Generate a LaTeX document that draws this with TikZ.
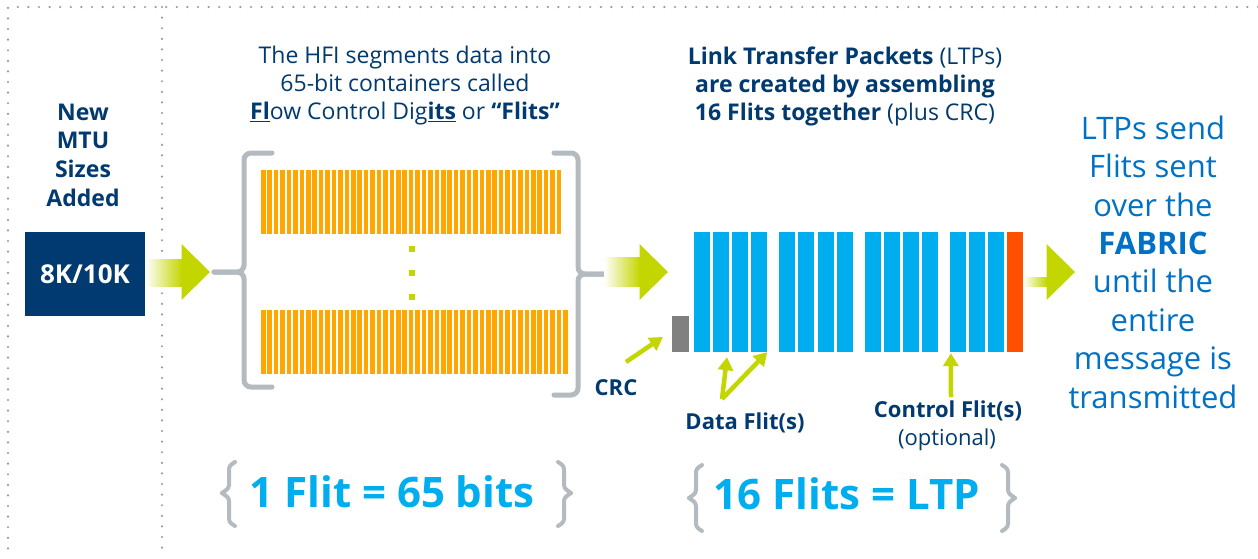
\documentclass[tikz,border=0pt]{standalone}
\usepackage{fontspec}
\setmainfont{Open Sans}
\usetikzlibrary{arrows.meta,calc}
\definecolor{navy}{HTML}{003A70}
\definecolor{lime}{HTML}{C4D600}
\definecolor{flitblue}{HTML}{00AEEF}
\definecolor{bitorange}{HTML}{FFA600}
\definecolor{tailred}{HTML}{FF5000}
\definecolor{crcgray}{HTML}{808080}
\definecolor{bracegray}{HTML}{B3BBC0}
\definecolor{dotgray}{HTML}{9A9A9A}
\definecolor{fabricblue}{HTML}{0071C5}
\newcommand\fatarrow[2]{%
  \shade[left color=white, right color=lime] ($(#1)+(0,-14.5)$) rectangle ($(#2)+(-28,14.5)$);
  \fill[lime] ($(#2)+(-28.5,-28)$) -- (#2) -- ($(#2)+(-28.5,28)$) -- cycle;}
\begin{document}
\begin{tikzpicture}[x=1pt,y=-1pt,
  dots/.style={draw=dotgray, line width=2.4pt, dash pattern=on 0pt off 10.6pt, line cap=round},
  bigbrace/.style={draw=bracegray, line width=5pt, rounded corners=7pt, line cap=round},
  smallbrace/.style={draw=bracegray, line width=4pt, rounded corners=3pt, line cap=round},
  pointer/.style={draw=lime, line width=4.5pt, -{Triangle[width=15pt,length=13pt]}},
  flit/.style={fill=flitblue, draw=none, inner sep=0pt, minimum width=16pt, minimum height=120pt},
  caption/.style={text=navy, align=center, inner sep=0pt, font=\fontsize{23}{28}\selectfont},
  tag/.style={text=navy, align=center, inner sep=0pt, font=\fontsize{22}{29}\selectfont\bfseries},
  formula/.style={text=flitblue, inner sep=0pt, font=\fontsize{42}{50}\selectfont\bfseries},
]
\useasboundingbox (0,0) rectangle (1258,558);
\fill[white] (0,0) rectangle (1258,558);

% dotted frame and column separator
\draw[dots] (1258,7) -- (8,7) -- (8,558);
\draw[dots] (162,7) -- (162,558);

% left column: MTU sizes
\node[caption, font=\fontsize{23}{28.7}\selectfont\bfseries] (newmtu) at (83,155) {New\\MTU\\Sizes\\Added};
\node[fill=navy, text=white, inner sep=0pt, minimum width=120pt, minimum height=84pt,
      font=\fontsize{26}{28}\selectfont\bfseries] (mtu) at (85,274) {8K/10K};

% segmentation caption
\node[caption] (hfi) at (405,86) {The HFI segments data into\\65-bit containers called\\
  \underline{\textbf{Fl}}ow Control Dig\underline{\textbf{its}} or \textbf{“Flits”}};

% flits as rows of bits
\foreach \i in {0,...,46} \fill[bitorange] ({261+6.43*\i},170) rectangle +(4.5,64);
\foreach \i in {0,...,47} \fill[bitorange] ({261+6.43*\i},310) rectangle +(4.5,64);
\foreach \y in {249,273,297} \fill[lime] (409,\y-3) rectangle +(6,6);

% brackets round the flits
\coordinate (lbtip) at (214,272);
\coordinate (rbtip) at (608,274);
\draw[bigbrace] (272,153) -- (244,153) -- (244,272) -- (lbtip);
\draw[bigbrace] (272,387) -- (244,387) -- (244,272) -- (lbtip);
\draw[bigbrace] (554,153) -- (578,153) -- (578,274) -- (rbtip);
\draw[bigbrace] (554,395) -- (578,395) -- (578,274) -- (rbtip);

% LTP caption
\node[caption] (ltpcap) at (845,86) {\textbf{Link Transfer Packets} (LTPs)\\
  \textbf{are created by assembling}\\\textbf{16 Flits together} (plus CRC)};

% link transfer packet
\node[fill=crcgray, inner sep=0pt, minimum width=17pt, minimum height=36pt] (crc) at (680.5,334) {};
\foreach \n/\x in {1/694,2/713,3/732,4/751,5/779,6/798,7/818,8/837,
                   9/865,10/884,11/903,12/922,13/950,14/969,15/988}
  \node[flit] (f\n) at (\x+8,292) {};
\node[flit, fill=tailred] (tail) at (1015,292) {};

% block arrows
\coordinate (a1) at (210,272);
\coordinate (a2s) at (604,272);
\coordinate (a2) at (668,272);
\coordinate (a3) at (1075,272);
\fatarrow{mtu.east}{a1}
\fatarrow{a2s}{a2}
\fatarrow{tail.east}{a3}

% labels with pointers
\node[tag] (crclbl) at (616,388) {CRC};
\node[tag] (datalbl) at (745,423) {Data Flit(s)};
\node[tag] (ctrllbl) at (948,411) {Control Flit(s)};
\node[caption, font=\fontsize{22}{24}\selectfont] (optlbl) at (947,440) {(optional)};
\coordinate (crctail) at (626,362);
\coordinate (datatail) at (722,399);
\coordinate (ctrltail) at (951,397);
\draw[pointer] (crctail) -- ($(crc.west)+(-9,3)$);
\draw[pointer] (datatail) -- ($(f2.south)+(6,5)$);
\draw[pointer] (datatail) -- ($(f4.south east)+(0,0)$);
\draw[pointer] (ctrltail) -- ($(f13.south west)+(1,1)$);

% result column
\node[text=fabricblue, align=center, inner sep=0pt, font=\fontsize{31}{38.4}\selectfont] (fabric) at (1153,262)
  {LTPs send\\Flits sent\\over the\\\textbf{FABRIC}\\until the\\entire\\message is\\transmitted};

% summary formulas
\node[formula] (sum1) at (392,492) {1 Flit = 65 bits};
\node[formula] (sum2) at (847,494) {16 Flits = LTP};
\draw[smallbrace] (235,462) -- (229,466) -- (229,488) -- (222,493);
\draw[smallbrace] (235,526) -- (229,522) -- (229,498) -- (222,493);
\draw[smallbrace] (558,462) -- (564,466) -- (564,488) -- (571,493);
\draw[smallbrace] (558,526) -- (564,522) -- (564,498) -- (571,493);
\draw[smallbrace] (702,465) -- (696,469) -- (696,493) -- (689,498);
\draw[smallbrace] (702,531) -- (696,527) -- (696,503) -- (689,498);
\draw[smallbrace] (1002,465) -- (1008,469) -- (1008,493) -- (1015,498);
\draw[smallbrace] (1002,531) -- (1008,527) -- (1008,503) -- (1015,498);
\end{tikzpicture}
\end{document}
